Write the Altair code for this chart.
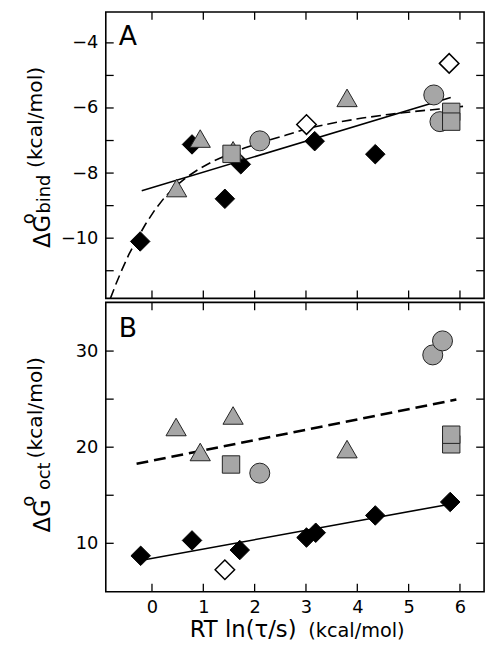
import altair as alt
import pandas as pd

FONT = "DejaVu Sans"
W = 383
HA = 290
HB = 293

x_domain = [-0.9, 6.47]
x_ticks = [0, 1, 2, 3, 4, 5, 6]

# ---------------- Panel A ----------------
a_y_domain = [-11.85, -3.05]
a_y_labels = [-10, -8, -6, -4]
a_y_ticks = [-11, -10, -9, -8, -7, -6, -5, -4]

a_black_x = [-0.23, 0.78, 1.42, 1.73, 3.17, 4.35]
a_black_y = [-10.1, -7.12, -8.79, -7.73, -7.02, -7.42]
a_open_x = [3.01, 5.79]
a_open_y = [-6.51, -4.63]
a_tri_x = [0.48, 0.94, 1.58, 3.80]
a_tri_y = [-8.46, -6.94, -7.30, -5.69]
a_circ_x = [2.10, 5.49, 5.61]
a_circ_y = [-7.01, -5.60, -6.42]
a_sq_x = [1.55, 5.83, 5.83]
a_sq_y = [-7.41, -6.12, -6.42]

a_solid_x = [-0.20, 5.82]
a_solid_y = [-8.54, -5.68]
a_dash_x = [-0.81, -0.70, -0.58, -0.45, -0.30, -0.13, 0.06, 0.25, 0.45, 0.68, 0.92,
            1.20, 1.50, 1.80, 2.20, 2.60, 3.04, 3.60, 4.10, 4.60, 5.10, 5.60, 6.06]
a_dash_y = [-11.85, -11.40, -10.95, -10.50, -10.05, -9.58, -9.12, -8.74, -8.42, -8.12, -7.87,
            -7.63, -7.42, -7.23, -7.02, -6.84, -6.62, -6.44, -6.31, -6.20, -6.11, -6.03, -5.95]

# ---------------- Panel B ----------------
b_y_domain = [4.96, 35.07]
b_y_labels = [10, 20, 30]
b_y_ticks = [10, 15, 20, 25, 30]

b_black_x = [-0.22, 0.78, 1.71, 3.01, 3.19, 4.35, 5.81]
b_black_y = [8.7, 10.3, 9.3, 10.6, 11.1, 12.9, 14.3]
b_open_x = [1.42]
b_open_y = [7.25]
b_tri_x = [0.47, 0.94, 1.58, 3.80]
b_tri_y = [22.1, 19.5, 23.3, 19.8]
b_circ_x = [2.10, 5.47, 5.66]
b_circ_y = [17.3, 29.6, 31.06]
b_sq_x = [1.54, 5.83, 5.83]
b_sq_y = [18.2, 20.3, 21.3]

b_solid_x = [-0.20, 5.80]
b_solid_y = [8.24, 14.07]
b_dash_x = [-0.30, 5.93]
b_dash_y = [18.28, 24.96]

GRAY = "#a6a6a6"


def text_layer(txt, x, y, size, angle=0, align="left"):
    kw = dict(text=txt, font=FONT, fontSize=size, color="black", align=align,
              baseline="alphabetic")
    if angle:
        kw["angle"] = angle
    return alt.Chart(pd.DataFrame({"d": [0]})).mark_text(**kw).encode(
        x=alt.value(x), y=alt.value(y))


def panel(h, ydom, ylabels, yticks, points, lines, show_x, texts):
    xs = alt.Scale(domain=x_domain, nice=False, zero=False)
    ys = alt.Scale(domain=ydom, nice=False, zero=False)
    if show_x:
        xaxis = alt.Axis(values=x_ticks, ticks=False, domain=False, grid=False,
                         labelPadding=7, title=None, format="d")
    else:
        xaxis = None
    yaxis = alt.Axis(values=ylabels, ticks=False, domain=False, grid=False,
                     labelPadding=8, title=None, format="d")

    def X(f):
        return alt.X(f + ":Q", scale=xs, axis=xaxis)

    def Y(f):
        return alt.Y(f + ":Q", scale=ys, axis=yaxis)

    layers = []
    # inward tick marks on all four sides
    xt = pd.DataFrame({"t": x_ticks})
    yt = pd.DataFrame({"t": yticks})
    tk = dict(color="black", strokeWidth=1.3)
    layers.append(alt.Chart(xt).mark_rule(**tk).encode(x=X("t"), y=alt.value(0), y2=alt.value(8)))
    layers.append(alt.Chart(xt).mark_rule(**tk).encode(x=X("t"), y=alt.value(h - 8), y2=alt.value(h)))
    layers.append(alt.Chart(yt).mark_rule(**tk).encode(y=Y("t"), x=alt.value(0), x2=alt.value(8)))
    layers.append(alt.Chart(yt).mark_rule(**tk).encode(y=Y("t"), x=alt.value(W - 8), x2=alt.value(W)))

    for lx, ly, dash, sw in lines:
        df = pd.DataFrame({"x": lx, "y": ly})
        kw = dict(color="black", strokeWidth=sw, clip=True)
        if dash:
            kw["strokeDash"] = dash
        layers.append(alt.Chart(df).mark_line(**kw).encode(x=X("x"), y=Y("y"), order="x:Q"))

    for px, py, shape, fill, stroke, size, sw in points:
        df = pd.DataFrame({"x": px, "y": py})
        layers.append(alt.Chart(df).mark_point(shape=shape, filled=True, fill=fill, stroke=stroke,
                                               size=size, strokeWidth=sw, opacity=1)
                      .encode(x=X("x"), y=Y("y")))
    layers.extend(texts)
    return alt.layer(*layers).properties(width=W, height=h)


panel_a = panel(
    HA, a_y_domain, a_y_labels, a_y_ticks,
    [
        (a_black_x, a_black_y, "diamond", "black", "black", 390, 1),
        (a_open_x, a_open_y, "diamond", "white", "black", 390, 1.5),
        (a_tri_x, a_tri_y, "triangle-up", GRAY, "#222222", 420, 1),
        (a_circ_x, a_circ_y, "circle", GRAY, "#222222", 410, 1),
        (a_sq_x, a_sq_y, "square", GRAY, "#222222", 310, 1),
    ],
    [
        (a_solid_x, a_solid_y, None, 1.6),
        (a_dash_x, a_dash_y, [10, 5], 1.6),
    ],
    False,
    [
        text_layer("A", 13, 33, 27),
        text_layer("ΔG", -56, 239, 23, angle=270),
        text_layer("o", -73, 215, 18, angle=270),
        text_layer("bind", -56, 204, 18, angle=270),
        text_layer("(kcal/mol)", -65, 158, 20.5, angle=270),
    ],
)

panel_b = panel(
    HB, b_y_domain, b_y_labels, b_y_ticks,
    [
        (b_black_x, b_black_y, "diamond", "black", "black", 390, 1),
        (b_open_x, b_open_y, "diamond", "white", "black", 390, 1.5),
        (b_tri_x, b_tri_y, "triangle-up", GRAY, "#222222", 420, 1),
        (b_circ_x, b_circ_y, "circle", GRAY, "#222222", 410, 1),
        (b_sq_x, b_sq_y, "square", GRAY, "#222222", 310, 1),
    ],
    [
        (b_solid_x, b_solid_y, None, 1.6),
        (b_dash_x, b_dash_y, [12, 6], 2.6),
    ],
    True,
    [
        text_layer("B", 13, 35, 27),
        text_layer("ΔG", -56, 233, 23, angle=270),
        text_layer("o", -73, 207, 18, angle=270),
        text_layer("oct", -56, 190, 18, angle=270),
        text_layer("(kcal/mol)", -65, 158, 20.5, angle=270),
        text_layer("RT ln(τ/s)", 85, 339, 23),
        text_layer("(kcal/mol)", 205, 339, 19.5),
    ],
)

chart = (
    alt.vconcat(panel_a, panel_b, spacing=0)
    .properties(padding={"left": 11, "top": -2, "right": 5, "bottom": 5})
    .configure_view(stroke="black", strokeWidth=1.6)
    .configure_axis(labelFont=FONT, labelFontSize=18, labelColor="black")
)

chart.save("out.html", embed_options={"renderer": "svg", "actions": False})
